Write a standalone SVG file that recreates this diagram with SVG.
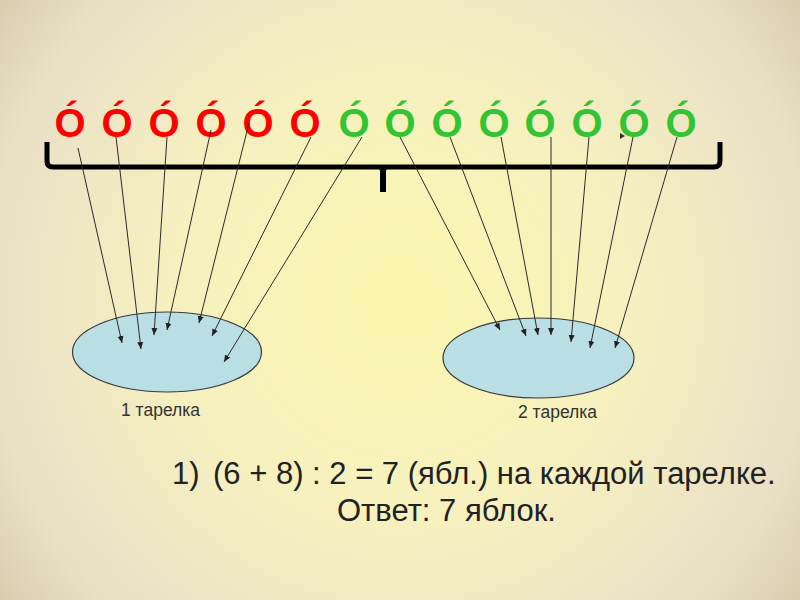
<svg xmlns="http://www.w3.org/2000/svg" width="800" height="600" viewBox="0 0 800 600">
<defs>
<radialGradient id="bg" cx="400" cy="300" r="520" gradientUnits="userSpaceOnUse">
<stop offset="0" stop-color="#fbf7ae"/>
<stop offset="0.45" stop-color="#f6f0c0"/>
<stop offset="0.8" stop-color="#e9e0c6"/>
<stop offset="1" stop-color="#d6c9a8"/>
</radialGradient>
<marker id="ah" markerUnits="userSpaceOnUse" markerWidth="8" markerHeight="8" viewBox="0 0 8 8" refX="7" refY="4" orient="auto">
<path d="M0,1 L7,4 L0,7 Z" fill="#222"/>
</marker>
<style>
.apple{font-family:"Liberation Sans",Arial,sans-serif;font-weight:bold;font-size:40px;text-anchor:middle}
.red{fill:#ff0000}
.green{fill:#33c433}
.plate{fill:#b9dfe5;stroke:#3a3a3a;stroke-width:1.2}
.lbl{font-family:"Liberation Sans",Arial,sans-serif;font-size:17.5px;fill:#333}
.main{font-family:"Liberation Sans",Arial,sans-serif;font-size:31px;fill:#222}
.arr line{stroke:#2a2a2a;stroke-width:1;marker-end:url(#ah)}
</style>
</defs>
<rect width="800" height="600" fill="url(#bg)"/>

<g id="apples">
<text class="apple red" x="70" y="137">Ó</text>
<text class="apple red" x="117" y="137">Ó</text>
<text class="apple red" x="164" y="137">Ó</text>
<text class="apple red" x="211" y="137">Ó</text>
<text class="apple red" x="258" y="137">Ó</text>
<text class="apple red" x="305" y="137">Ó</text>
<text class="apple green" x="354" y="137">Ó</text>
<text class="apple green" x="400" y="137">Ó</text>
<text class="apple green" x="447" y="137">Ó</text>
<text class="apple green" x="494" y="137">Ó</text>
<text class="apple green" x="540" y="137">Ó</text>
<text class="apple green" x="587" y="137">Ó</text>
<text class="apple green" x="634" y="137">Ó</text>
<text class="apple green" x="681" y="137">Ó</text>
</g>

<g id="bracket" fill="none" stroke="#000">
<path d="M47,142 V161 Q47,167 53,167 H714 Q720,167 720,161 V142" stroke-width="5"/>
<path d="M383,167 V192" stroke-width="6"/>
<path d="M377,167 Q383,168 383,174 Q383,168 389,167" stroke-width="3"/>
</g>

<g id="plate1">
<ellipse class="plate" cx="167" cy="352" rx="94.5" ry="40"/>
<text class="lbl" x="121" y="416">1 тарелка</text>
</g>
<g id="plate2">
<ellipse class="plate" cx="538.5" cy="358" rx="95.5" ry="40"/>
<text class="lbl" x="518" y="418">2 тарелка</text>
</g>

<g id="connectors" class="arr">
<line x1="78" y1="148" x2="122" y2="343"/>
<line x1="116" y1="137" x2="141" y2="349"/>
<line x1="167" y1="137" x2="154" y2="335"/>
<line x1="211" y1="130" x2="167" y2="330"/>
<line x1="249" y1="123" x2="199" y2="323"/>
<line x1="311" y1="137" x2="212" y2="336"/>
<line x1="362" y1="137" x2="224" y2="362"/>
<line x1="400" y1="137" x2="500" y2="330"/>
<line x1="450" y1="137" x2="526" y2="336"/>
<line x1="501" y1="137" x2="538" y2="335"/>
<line x1="551" y1="137" x2="551" y2="335"/>
<line x1="589" y1="137" x2="571" y2="342"/>
<line x1="633" y1="137" x2="590" y2="348"/>
<line x1="677" y1="137" x2="615" y2="348"/>
</g>
<path d="M620,133 L625,136 L620,139 Z" fill="#333"/>

<g id="solution">
<text class="main" x="172" y="484">1)</text>
<text class="main" x="213" y="484">(6 + 8) : 2 = 7 (ябл.) на каждой тарелке.</text>
<text class="main" x="337" y="521">Ответ: 7 яблок.</text>
</g>
</svg>
